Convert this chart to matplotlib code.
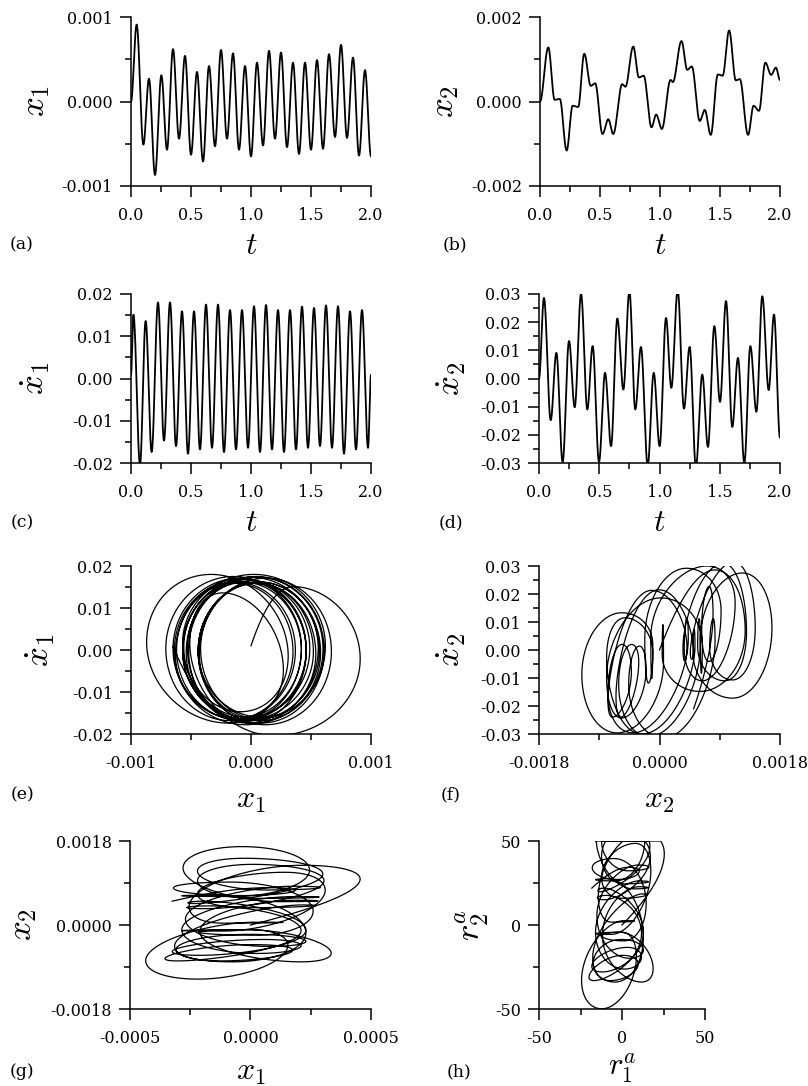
import numpy as np
import matplotlib
matplotlib.use("Agg")
import matplotlib.pyplot as plt

plt.rcParams["font.family"] = ["DejaVu Serif"]
plt.rcParams["mathtext.fontset"] = "cm"

# extrema (time, value)
x1_t = [0, 0.047, 0.103, 0.15, 0.2, 0.253, 0.3, 0.35, 0.4, 0.45, 0.5, 0.55, 0.6, 0.65,
        0.7, 0.75, 0.8, 0.85, 0.9, 0.95, 1.0, 1.05, 1.1, 1.15, 1.2, 1.25, 1.3, 1.35,
        1.4, 1.45, 1.5, 1.55, 1.6, 1.65, 1.7, 1.75, 1.8, 1.85, 1.9, 1.95, 2.0]
x1_v = [0, 9.1, -5.1, 2.7, -8.7, 3.1, -5.7, 6.2, -4.4, 5.4, -6.3, 3.5, -7.1, 4.2,
        -5.3, 6.1, -4.4, 5.7, -5.7, 4.2, -6.5, 4.6, -5.2, 6.0, -4.4, 5.8, -5.4, 4.6,
        -6.2, 4.6, -5.7, 4.9, -5.6, 5.6, -4.2, 6.7, -4.3, 5.2, -6.4, 3.7, -6.5]  # x1e-4

x2_t = [0, 0.069, 0.122, 0.165, 0.222, 0.272, 0.318, 0.369, 0.423, 0.46, 0.521, 0.569,
        0.61, 0.685, 0.712, 0.777, 0.824, 0.864, 0.929, 0.968, 1.015, 1.088, 1.107,
        1.179, 1.227, 1.265, 1.331, 1.373, 1.423, 1.482, 1.522, 1.576, 1.632, 1.665,
        1.734, 1.78, 1.825, 1.878, 1.926, 1.966, 2.0]
x2_v = [0, 12.8, 0.4, 0.6, -11.6, -1.0, -1.3, 11.3, 3.7, 4.3, -7.7, -4.2,
        -7.7, 4.1, 3.5, 13.0, 5.7, 6.1, -6.1, -3.1, -6.5, 5.1, 4.6,
        14.3, 7.5, 8.3, -4.6, -2.0, -7.9, 6.4, 6.1, 16.8, 5.0, 5.3,
        -7.9, -1.0, -2.2, 9.2, 6.3, 8.0, 5.1]  # x1e-4

x1d_t = [0, 0.02, 0.075, 0.122, 0.172, 0.225, 0.275, 0.325, 0.375, 0.425, 0.475, 0.525,
         0.575, 0.625, 0.675, 0.725, 0.775, 0.825, 0.875, 0.925, 0.975, 1.025, 1.075,
         1.125, 1.175, 1.225, 1.275, 1.325, 1.375, 1.425, 1.475, 1.525, 1.575, 1.625,
         1.675, 1.725, 1.775, 1.825, 1.875, 1.925, 1.975, 2.0]
x1d_v = [0.001, 0.0151, -0.0204, 0.0136, -0.0174, 0.018, -0.0147, 0.018, -0.016, 0.0159,
         -0.0178, 0.0159, -0.0168, 0.0175, -0.0164, 0.0175, -0.0174, 0.0162, -0.0168,
         0.0162, -0.0164, 0.0171, -0.0174, 0.0174, -0.0168, 0.0162, -0.0174, 0.0162,
         -0.0168, 0.017, -0.0164, 0.0167, -0.016, 0.0173, -0.0164, 0.0171, -0.0178,
         0.0159, -0.0168, 0.0162, -0.0164, 0.0008]

x2d_t = [0, 0.041, 0.097, 0.144, 0.196, 0.249, 0.296, 0.349, 0.401, 0.445, 0.498, 0.548,
         0.598, 0.65, 0.7, 0.75, 0.799, 0.846, 0.902, 0.952, 1.001, 1.054, 1.098, 1.151,
         1.203, 1.25, 1.302, 1.355, 1.402, 1.455, 1.502, 1.552, 1.604, 1.651, 1.704,
         1.754, 1.804, 1.853, 1.906, 1.95, 2.0]
x2d_v = [0.0, 0.0286, -0.0148, 0.0091, -0.0296, 0.0133, -0.0102, 0.030, -0.011, 0.0115,
         -0.0296, 0.002, -0.024, 0.0213, -0.0039, 0.031, -0.011, 0.0112, -0.0309, 0.002,
         -0.024, 0.0215, -0.0033, 0.0314, -0.0107, 0.0112, -0.0314, 0.0014, -0.0243,
         0.0186, -0.0083, 0.0275, -0.0172, 0.0073, -0.030, 0.0115, -0.0118, 0.0292,
         -0.0041, 0.0227, -0.021]

# (g) is printed at half the x1 scale of (a)/(e); (h) scales taken from its axes
g_x1_scale = 0.5
r1_gain = 28000.0   # on x1
r2_gain = 43000.0   # on x2
r_limit = 50.0

t_ticks = [0.0, 0.5, 1.0, 1.5, 2.0]
t_labels = ["0.0", "0.5", "1.0", "1.5", "2.0"]


def through(tn, vn, t):
    # smooth curve through the read extrema, flat at each node
    tn = np.asarray(tn, float)
    vn = np.asarray(vn, float)
    i = np.clip(np.searchsorted(tn, t, side="right") - 1, 0, len(tn) - 2)
    s = (t - tn[i]) / (tn[i + 1] - tn[i])
    w = (1 - np.cos(np.pi * s)) / 2
    return vn[i] + (vn[i + 1] - vn[i]) * w


t = np.linspace(0, 2, 6001)
x1 = through(x1_t, np.array(x1_v) * 1e-4, t)
x2 = through(x2_t, np.array(x2_v) * 1e-4, t)
x1d = through(x1d_t, x1d_v, t)
x2d = through(x2d_t, x2d_v, t)
r1 = np.clip(r1_gain * x1, -r_limit, r_limit)
r2 = np.clip(r2_gain * x2, -r_limit, r_limit)

W, H = 808, 1086
fig = plt.figure(figsize=(W / 100, H / 100), dpi=100)


def make_ax(l, tp, r, b):
    ax = fig.add_axes([l / W, 1 - b / H, (r - l) / W, (b - tp) / H])
    for s in ("top", "right"):
        ax.spines[s].set_visible(False)
    for s in ("left", "bottom"):
        ax.spines[s].set_linewidth(1.1)
    ax.tick_params(which="both", direction="out", width=1.1, labelsize=11.5)
    ax.tick_params(which="major", length=8, pad=5)
    ax.tick_params(which="minor", length=4.5)
    ax.tick_params(axis="x", which="major", pad=7)
    return ax


def setup(ax, xlim, xt, xl, xminor, ylim, yt, yl, yminor):
    ax.set_xlim(*xlim)
    ax.set_ylim(*ylim)
    ax.set_xticks(xt)
    ax.set_xticklabels(xl)
    ax.set_xticks(xminor, minor=True)
    ax.set_yticks(yt)
    ax.set_yticklabels(yl)
    ax.set_yticks(yminor, minor=True)


def labels(ax, xlab, xy, ylab, yx, xsize=23, ysize=25):
    ax.set_xlabel(xlab, fontsize=xsize)
    ax.xaxis.set_label_coords(0.5, xy)
    ax.xaxis.label.set_va("center")
    ax.set_ylabel(ylab, fontsize=ysize)
    ax.yaxis.set_label_coords(yx, 0.5)
    ax.yaxis.label.set_va("center")


t_minor = [0.25, 0.75, 1.25, 1.75]

# (a)
ax = make_ax(131, 17, 371, 186)
ax.plot(t, x1, color="black", lw=1.3)
setup(ax, (0, 2), t_ticks, t_labels, t_minor,
      (-0.001, 0.001), [-0.001, 0, 0.001], ["-0.001", "0.000", "0.001"], [-0.0005, 0.0005])
labels(ax, r"$t$", -0.35, r"$x_{1}$", -0.40)

# (b)
ax = make_ax(540, 17, 780, 186)
ax.plot(t, x2, color="black", lw=1.3)
setup(ax, (0, 2), t_ticks, t_labels, t_minor,
      (-0.002, 0.002), [-0.002, 0, 0.002], ["-0.002", "0.000", "0.002"], [-0.001, 0.001])
labels(ax, r"$t$", -0.35, r"$x_{2}$", -0.40)

# (c)
ax = make_ax(131, 294, 371, 463)
ax.plot(t, x1d, color="black", lw=1.3)
setup(ax, (0, 2), t_ticks, t_labels, t_minor,
      (-0.02, 0.02), [-0.02, -0.01, 0, 0.01, 0.02],
      ["-0.02", "-0.01", "0.00", "0.01", "0.02"], [-0.015, -0.005, 0.005, 0.015])
labels(ax, r"$t$", -0.35, r"$\dot{x}_{1}$", -0.40)

# (d)
ax = make_ax(539, 294, 780, 463)
ax.plot(t, x2d, color="black", lw=1.3)
setup(ax, (0, 2), t_ticks, t_labels, t_minor,
      (-0.03, 0.03), [-0.03, -0.02, -0.01, 0, 0.01, 0.02, 0.03],
      ["-0.03", "-0.02", "-0.01", "0.00", "0.01", "0.02", "0.03"],
      [-0.025, -0.015, -0.005, 0.005, 0.015, 0.025])
labels(ax, r"$t$", -0.35, r"$\dot{x}_{2}$", -0.365)

# (e)
ax = make_ax(131, 566, 371, 734)
ax.plot(x1, x1d, color="black", lw=0.9)
setup(ax, (-0.001, 0.001), [-0.001, 0, 0.001], ["-0.001", "0.000", "0.001"], [-0.0005, 0.0005],
      (-0.02, 0.02), [-0.02, -0.01, 0, 0.01, 0.02],
      ["-0.02", "-0.01", "0.00", "0.01", "0.02"], [-0.015, -0.005, 0.005, 0.015])
labels(ax, r"$x_{\mathbf{1}}$", -0.39, r"$\dot{x}_{1}$", -0.38)

# (f)
ax = make_ax(539, 566, 780, 734)
ax.plot(x2, x2d, color="black", lw=0.9)
setup(ax, (-0.0018, 0.0018), [-0.0018, 0, 0.0018], ["-0.0018", "0.0000", "0.0018"],
      [-0.0009, 0.0009],
      (-0.03, 0.03), [-0.03, -0.02, -0.01, 0, 0.01, 0.02, 0.03],
      ["-0.03", "-0.02", "-0.01", "0.00", "0.01", "0.02", "0.03"],
      [-0.025, -0.015, -0.005, 0.005, 0.015, 0.025])
labels(ax, r"$x_{\mathbf{2}}$", -0.39, r"$\dot{x}_{2}$", -0.365)

# (g)
ax = make_ax(130, 841, 371, 1009)
ax.plot(g_x1_scale * x1, x2, color="black", lw=0.9)
setup(ax, (-0.0005, 0.0005), [-0.0005, 0, 0.0005], ["-0.0005", "0.0000", "0.0005"],
      [-0.00025, 0.00025],
      (-0.0018, 0.0018), [-0.0018, 0, 0.0018], ["-0.0018", "0.0000", "0.0018"],
      [-0.0009, 0.0009])
labels(ax, r"$x_{\mathbf{1}}$", -0.37, r"$x_{2}$", -0.45)

# (h)
ax = make_ax(539, 841, 705, 1009)
ax.plot(r1, r2, color="black", lw=0.9)
setup(ax, (-50, 50), [-50, 0, 50], ["-50", "0", "50"], [-25, 25],
      (-50, 50), [-50, 0, 50], ["-50", "0", "50"], [-25, 25])
labels(ax, r"$r_{1}^{a}$", -0.355, r"$r_{2}^{a}$", -0.40, xsize=22)

panel_pos = {"(a)": (22, 245), "(b)": (455, 245), "(c)": (22, 523), "(d)": (451, 523),
             "(e)": (22, 795), "(f)": (451, 795), "(g)": (22, 1071), "(h)": (459, 1072)}
for name, (px, py) in panel_pos.items():
    fig.text(px / W, 1 - py / H, name, fontsize=12.5, ha="center", va="center")

fig.savefig("out.png", dpi=100)
